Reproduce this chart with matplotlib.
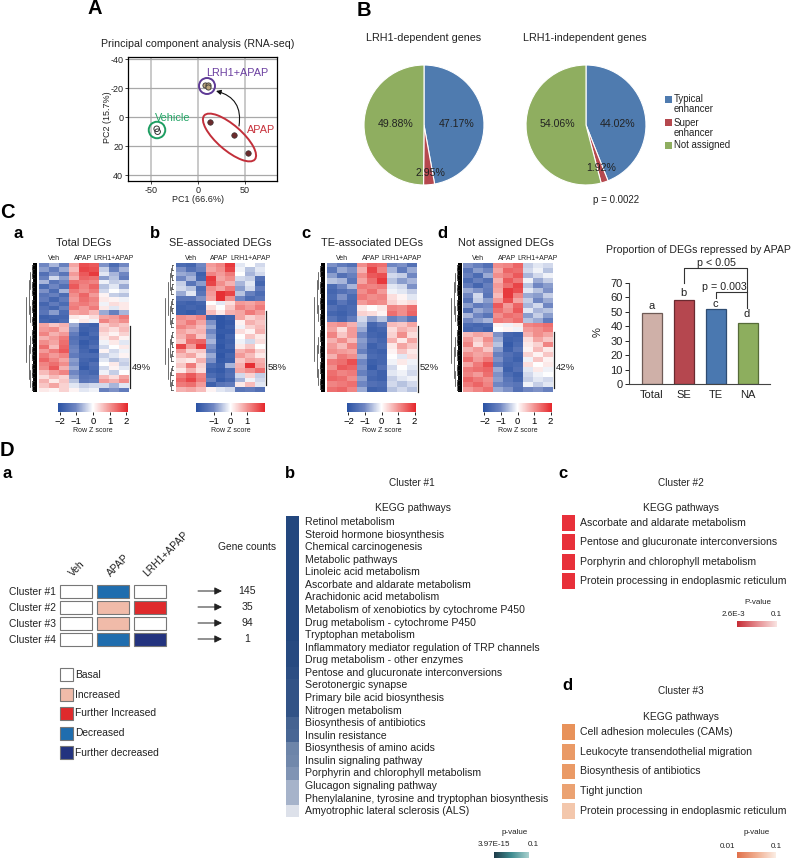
"""Multi-panel figure: PCA, enhancer pies, DEG heatmaps, bar chart and KEGG lists."""

import matplotlib
matplotlib.use("Agg")
import matplotlib.pyplot as plt
import numpy as np
from matplotlib.cm import ScalarMappable
from matplotlib.colors import LinearSegmentedColormap, Normalize
from matplotlib.patches import Ellipse, Rectangle

plt.rcParams["font.family"] = ["Liberation Sans", "DejaVu Sans"]

W, H = 794, 859

# PCA
pc_vehicle_x = [-44, -43]
pc_vehicle_y = [8, 10]
pc_lrh1_x = [7, 11, 11]
pc_lrh1_y = [-22, -22, -21]
pc_apap_x = [13, 38, 53]
pc_apap_y = [3, 12, 25]
pc_xticks = [-50, 0, 50]
pc_yticks = [-40, -20, 0, 20, 40]

# pies
pie_labels = ["Typical\nenhancer", "Super\nenhancer", "Not assigned"]
pie_dependent = [47.17, 2.95, 49.88]
pie_independent = [44.02, 1.92, 54.06]

# bars
bar_names = ["Total", "SE", "TE", "NA"]
bar_values = [49, 58, 52, 42]
bar_letters = ["a", "b", "c", "d"]

# heatmaps, rows top to bottom, columns Veh x3, APAP x3, LRH1+APAP x3
heat_total = [
    [-1.0, -0.6, -1.1, 0.8, 1.6, 1.5, -0.9, -1.5, -1.0],
    [-0.8, -1.2, -0.7, 0.6, 1.7, 1.6, -0.4, -1.1, -0.6],
    [-1.4, -0.9, -1.3, 0.9, 1.5, 1.8, -0.2, -0.6, -1.0],
    [-1.1, -0.3, -0.8, 0.7, 1.4, 1.3, -0.8, -0.5, -1.2],
    [-0.6, -1.3, -1.0, 1.3, 1.2, 1.1, -0.1, -0.4, -0.3],
    [-1.5, -1.0, -1.4, 1.5, 1.1, 1.4, -0.5, -0.2, -0.7],
    [-0.9, -1.5, -0.6, 1.2, 1.0, 1.2, -0.3, 0.0, -0.2],
    [-1.3, -1.1, -1.5, 1.0, 1.4, 0.9, 0.1, -0.4, -0.5],
    [-1.2, -1.6, -1.2, 0.9, 1.3, 1.1, 0.2, 0.1, -0.1],
    [-1.6, -1.2, -1.5, 1.1, 1.2, 1.0, -0.1, 0.3, 0.2],
    [-1.4, -1.6, -1.1, 1.2, 0.9, 1.2, 0.2, -0.2, 0.2],
    [-1.3, -0.8, -1.5, 0.8, 0.9, 0.6, -0.7, -1.1, -0.6],
    [-1.7, -1.6, -1.6, 0.2, 0.1, 0.3, 0.8, 0.9, 1.2],
    [-1.6, -1.7, -1.5, 0.0, 0.2, -0.1, 1.1, 0.8, 1.0],
    [0.8, 0.5, 0.7, -0.7, -1.6, -1.7, 0.4, 0.7, 0.5],
    [0.9, 1.0, 0.6, -0.9, -1.7, -1.6, 0.5, 0.3, 0.6],
    [1.1, 0.7, 0.9, -1.2, -1.8, -1.5, 0.3, 0.1, 0.4],
    [0.7, 0.9, 1.2, -1.4, -1.6, -1.7, 0.2, 0.5, 0.1],
    [1.0, 0.8, 1.3, -1.3, -1.8, -1.6, -0.1, 0.2, -0.2],
    [1.3, 0.6, 1.4, -1.1, -1.7, -1.4, -0.3, 0.0, 0.2],
    [0.9, 1.2, 1.5, -1.0, -1.6, -1.8, 0.1, -0.3, -0.1],
    [1.2, 0.9, 1.1, -1.2, -1.5, -1.5, -0.4, -0.2, 0.1],
    [1.4, 1.1, 0.8, -0.8, -1.6, -1.7, -0.2, -0.5, -0.3],
    [1.1, 1.3, 1.0, -0.9, -1.7, -1.4, 0.0, 0.2, -0.4],
    [1.0, 1.5, 0.7, -0.7, -1.8, -1.5, -0.3, 0.1, -0.2],
    [0.6, 0.9, 1.1, -1.0, -1.5, -1.6, -0.1, -0.4, 0.0],
    [0.3, 0.6, 0.4, -0.8, -1.4, -1.3, 0.6, 0.3, 0.8],
    [0.7, 0.2, 0.5, -0.5, -1.3, -1.2, 0.9, 0.7, 1.0],
    [0.5, 0.8, 0.4, -0.2, -0.4, -0.3, -0.3, -0.6, -0.2],
    [0.2, 0.1, 0.4, 0.1, -0.2, -0.1, -1.1, -0.9, -1.2],
]
heat_se = [
    [-1.5, -1.6, -1.0, 0.9, 1.1, 1.8, -0.2, 0.0, -0.3],
    [-0.9, -1.4, -1.1, 0.8, 1.0, 1.7, -0.1, -0.5, -0.2],
    [-0.7, -0.8, -1.7, 1.1, 0.9, 1.2, 0.0, -0.6, -0.3],
    [-1.0, -0.6, -1.6, 1.8, 0.8, 1.0, -0.3, -0.4, -1.4],
    [-0.4, -1.3, -0.8, 1.7, 1.0, 0.7, -0.6, -0.2, -1.6],
    [-0.3, -0.5, -1.5, 1.0, 0.8, 1.2, -0.8, -0.3, -1.2],
    [-0.7, -0.2, -1.3, 0.9, 1.9, 1.7, -0.5, -1.1, -1.5],
    [-1.3, -1.3, -0.9, 0.8, 1.9, 1.0, -1.0, -1.5, -1.3],
    [-1.6, -1.7, -1.6, 0.0, -0.2, 0.3, 0.9, 0.8, 1.0],
    [-1.7, -1.6, -1.7, 0.3, 0.0, 0.5, 1.1, 0.9, 1.2],
    [-1.7, -1.8, -1.6, 0.6, 0.2, 0.7, 0.8, 1.2, 0.9],
    [1.0, 0.9, 1.1, -1.7, -1.9, -1.7, 0.8, 0.4, 0.6],
    [0.9, 1.2, 0.8, -0.9, -1.9, -1.8, 0.1, 0.7, 0.5],
    [1.1, 0.9, 0.6, -0.7, -1.9, -1.7, -0.1, 0.4, 0.6],
    [0.8, 0.6, 0.7, -1.0, -1.8, -1.8, 0.3, 0.1, 0.7],
    [0.7, 1.1, 0.5, -0.8, -1.9, -1.6, 0.0, 0.5, 0.2],
    [0.5, 1.3, 1.4, -0.6, -1.8, -1.7, -0.1, -0.3, 0.3],
    [1.7, 0.9, 1.8, -0.9, -1.9, -1.6, 0.2, 0.5, 0.0],
    [0.9, 0.4, 0.5, -1.1, -1.8, -1.8, 0.7, 0.9, 0.4],
    [0.6, 0.8, 0.3, -0.7, -1.9, -1.6, 0.9, 0.6, 0.2],
    [0.3, 0.2, 0.7, -0.9, -1.8, -1.7, 0.5, 0.8, 0.7],
    [0.5, 1.2, 0.4, -1.5, -1.7, -0.6, 0.7, 1.9, 0.8],
    [0.2, 0.7, 0.3, -1.7, -1.8, -1.5, 0.8, 1.0, 1.3],
    [1.2, 1.5, 1.1, -1.5, -1.7, -1.4, -0.3, 0.4, -0.4],
    [1.4, 1.7, 1.2, -1.1, -1.8, -1.6, -0.6, -0.1, -0.3],
    [1.2, 1.3, 0.9, -1.7, -1.3, -1.2, 0.2, 0.6, -0.2],
    [0.7, 0.8, 0.6, 0.1, -0.2, -0.3, -1.3, -1.2, -1.4],
]
heat_te = [
    [-0.9, -1.2, -1.4, 1.0, 1.4, 1.3, -1.0, -0.9, -1.4],
    [-1.3, -0.7, -0.9, 0.7, 1.7, 1.1, -0.6, -1.2, -0.7],
    [-0.8, -1.4, -1.1, 1.0, 1.5, 1.6, -0.3, -0.4, -1.0],
    [-0.5, -0.6, -1.3, 0.8, 1.3, 1.8, -0.5, -0.8, -0.6],
    [-1.5, -1.0, -0.6, 1.2, 1.1, 1.2, -0.2, -0.3, -0.9],
    [-1.6, -1.4, -1.2, 1.0, 1.3, 0.9, -0.1, -0.2, -0.4],
    [-1.5, -0.9, -1.5, 1.2, 1.0, 1.1, 0.3, 0.1, -0.2],
    [-1.7, -1.3, -1.6, 0.9, 1.1, 1.0, 0.4, 0.2, 0.3],
    [-1.4, -1.6, -1.5, 0.2, 0.0, 0.2, 1.1, 1.0, 1.3],
    [-1.6, -1.7, -1.5, 0.4, 0.3, 0.1, 1.3, 1.0, 1.4],
    [-1.3, -1.6, -1.2, -0.3, -0.8, -0.5, -1.1, -0.9, -1.3],
    [0.9, 1.0, 0.7, -0.5, -1.6, -1.3, 0.6, 0.5, 0.8],
    [0.8, 0.3, 0.9, -0.7, -1.7, -1.6, 0.3, 0.7, 0.5],
    [1.1, 0.5, 0.9, -1.0, -1.6, -1.7, 0.4, 1.0, 0.3],
    [0.7, 1.0, 0.6, -0.8, -1.4, -1.6, 0.7, 0.2, 0.8],
    [0.9, 0.6, 1.1, -0.9, -1.7, -1.5, 0.2, 0.8, 0.5],
    [1.0, 0.9, 0.8, -1.1, -1.6, -1.7, 0.1, 0.5, 0.2],
    [0.7, 1.2, 1.0, -0.7, -1.5, -1.6, 0.0, -0.2, 0.3],
    [1.2, 1.3, 1.6, -1.0, -1.7, -1.6, -0.1, 0.2, -0.1],
    [1.0, 1.5, 1.4, -0.9, -1.8, -1.4, -0.3, 0.0, -0.2],
    [1.3, 1.1, 1.2, -1.1, -1.5, -1.7, -0.2, -0.1, -0.3],
    [1.4, 1.3, 1.0, -0.8, -1.6, -1.7, -0.4, -0.2, -0.1],
    [1.1, 1.2, 1.3, -1.0, -1.4, -1.5, -0.3, -0.5, -0.3],
    [1.3, 1.4, 1.1, -0.7, -1.7, -1.6, -0.5, -0.3, -0.5],
]
heat_na = [
    [-0.9, -1.1, -1.4, 1.0, 1.1, 1.4, -0.4, -0.2, -0.3],
    [-1.3, -0.8, -1.0, 0.8, 1.4, 1.3, -0.3, -0.1, -0.5],
    [-1.1, -1.5, -0.7, 1.0, 1.2, 1.5, -0.6, -0.3, -0.1],
    [-1.5, -1.1, -1.4, 0.7, 1.5, 1.2, -0.1, -0.7, -0.4],
    [-1.2, -1.6, -1.1, 0.9, 1.3, 1.7, -0.5, -1.0, -0.8],
    [-0.7, -0.9, -1.2, 0.8, 1.8, 1.6, -0.2, -0.5, -0.9],
    [-1.0, -0.3, -1.3, 0.6, 1.8, 1.1, -0.7, -0.8, -0.4],
    [-1.3, -0.4, -0.8, 0.9, 1.6, 0.8, -0.4, -1.0, -0.7],
    [-0.8, -1.2, -1.0, 1.5, 0.9, 1.4, -0.6, -0.3, -1.0],
    [-1.4, -0.7, -0.9, 1.3, 1.0, 1.5, -0.2, -0.6, -0.5],
    [-0.6, -1.0, -1.3, 1.0, 1.3, 1.2, -0.8, -0.4, -0.8],
    [-1.0, -0.8, -0.6, 1.2, 1.1, 1.3, -0.5, -0.7, -1.2],
    [-1.5, -1.6, -1.5, 0.1, -0.1, 0.2, 1.1, 1.2, 1.3],
    [-1.6, -1.5, -1.7, 0.0, 0.1, -0.1, 0.9, 1.0, 1.2],
    [0.6, 0.8, 0.7, -0.9, -1.6, -1.7, 0.7, 1.0, 0.8],
    [0.9, 0.5, 1.0, -0.7, -1.7, -1.6, 0.3, 0.8, 0.5],
    [1.1, 0.3, 0.8, -0.5, -1.8, -1.5, 0.2, 0.4, 1.1],
    [0.7, 0.9, 0.5, -0.8, -1.7, -1.3, 0.1, 0.6, 0.2],
    [1.0, 0.8, 0.9, -1.1, -1.4, -1.6, 0.4, 0.1, 0.5],
    [1.3, 0.9, 1.2, -0.9, -1.5, -1.7, -0.1, 0.5, 0.1],
    [0.8, 1.2, 1.6, -1.2, -1.6, -1.5, 0.3, 0.0, 0.2],
    [1.2, 1.3, 1.4, -0.7, -1.7, -1.4, -0.2, 0.2, -0.1],
    [1.1, 0.9, 1.3, -0.9, -1.5, -1.7, -0.3, -0.1, 0.0],
    [1.4, 1.2, 1.0, -0.8, -1.3, -1.6, -0.4, -0.2, -0.3],
    [1.2, 1.4, 1.1, -1.0, -1.2, -1.3, -0.1, -0.4, -0.2],
    [0.9, 1.1, 1.3, -0.7, -0.9, -1.4, -1.0, -0.9, -1.1],
]

# cluster table, codes follow state_names
state_names = ["Basal", "Increased", "Further Increased", "Decreased", "Further decreased"]
state_colors = ["white", "#F0BBA9", "#DF2A2C", "#1F6DAE", "#23337F"]
cluster_names = ["Cluster #1", "Cluster #2", "Cluster #3", "Cluster #4"]
cluster_states = [[0, 3, 0], [0, 1, 2], [0, 1, 0], [0, 3, 4]]
cluster_columns = ["Veh", "APAP", "LRH1+APAP"]
gene_counts = ["145", "35", "94", "1"]

# KEGG lists
kegg_cluster1 = [
    "Retinol metabolism", "Steroid hormone biosynthesis", "Chemical carcinogenesis",
    "Metabolic pathways", "Linoleic acid metabolism", "Ascorbate and aldarate metabolism",
    "Arachidonic acid metabolism", "Metabolism of xenobiotics by cytochrome P450",
    "Drug metabolism - cytochrome P450", "Tryptophan metabolism",
    "Inflammatory mediator regulation of TRP channels", "Drug metabolism - other enzymes",
    "Pentose and glucuronate interconversions", "Serotonergic synapse",
    "Primary bile acid biosynthesis", "Nitrogen metabolism", "Biosynthesis of antibiotics",
    "Insulin resistance", "Biosynthesis of amino acids", "Insulin signaling pathway",
    "Porphyrin and chlorophyll metabolism", "Glucagon signaling pathway",
    "Phenylalanine, tyrosine and tryptophan biosynthesis",
    "Amyotrophic lateral sclerosis (ALS)",
]
kegg_cluster1_level = [0.0, 0.0, 0.0, 0.0, 0.0, 0.0, 0.0, 0.0, 0.0, 0.0, 0.02, 0.02,
                       0.05, 0.08, 0.08, 0.08, 0.18, 0.2, 0.4, 0.42, 0.5, 0.7, 0.7, 1.0]
kegg_cluster2 = [
    "Ascorbate and aldarate metabolism", "Pentose and glucuronate interconversions",
    "Porphyrin and chlorophyll metabolism", "Protein processing in endoplasmic reticulum",
]
kegg_cluster2_level = [0.0, 0.0, 0.0, 0.0]
kegg_cluster3 = [
    "Cell adhesion molecules (CAMs)", "Leukocyte transendothelial migration",
    "Biosynthesis of antibiotics", "Tight junction",
    "Protein processing in endoplasmic reticulum",
]
kegg_cluster3_level = [0.0, 0.15, 0.15, 0.3, 1.0]

heat_cmap = LinearSegmentedColormap.from_list("heat", ["#2A52A4", "#6F86C2", "#FFFFFF", "#F2908E", "#E5262B"])
kegg1_cmap = LinearSegmentedColormap.from_list("kegg1", ["#23477E", "#DDE1EA"])
kegg2_cmap = LinearSegmentedColormap.from_list("kegg2", ["#E8303A", "#F7C0C0"])
kegg3_cmap = LinearSegmentedColormap.from_list("kegg3", ["#E8925A", "#F3C7AC"])
pie_colors = ["#4F7BAF", "#B5484E", "#8FAE60"]
bar_colors = ["#CFB0A8", "#B5474F", "#4A78B0", "#8DAE5E"]
bar_edges = ["#6E5A55", "#6A2A30", "#2E4C72", "#566B38"]

fig = plt.figure(figsize=(W / 100, H / 100), dpi=100)


def px_axes(x0, y0, x1, y1, **kw):
    return fig.add_axes([x0 / W, 1 - y1 / H, (x1 - x0) / W, (y1 - y0) / H], **kw)


# all free text sits on a full figure axes in pixel units
ov = px_axes(0, 0, W, H, zorder=20)
ov.set_xlim(0, W)
ov.set_ylim(H, 0)
ov.axis("off")
ov.patch.set_alpha(0)


def put(x, y, s, size=7, ha="center", **kw):
    ov.text(x, y, s, fontsize=size, ha=ha, va="center", color=kw.pop("color", "#222222"), **kw)


def letter(x, y, s, size=13):
    put(x, y, s, size=size, weight="bold", color="black")


for x, y, s, size in [(95, 9, "A", 14.5), (364, 11, "B", 14.5), (7, 213, "C", 14.5), (7, 451, "D", 14.5),
                      (18, 233, "a", 12), (155, 233, "b", 12), (306, 233, "c", 12), (442, 233, "d", 12),
                      (7, 474, "a", 12), (290, 474, "b", 12), (563, 474, "c", 12), (567, 686, "d", 12)]:
    letter(x, y, s, size)

# ---- A: PCA
ax = px_axes(128, 57, 277, 181)
ax.set_xlim(-74.5, 84)
ax.set_ylim(44, -41.5)
for v in pc_xticks:
    ax.axvline(v, color="#C9C9C9", lw=1.4, zorder=1)
for v in pc_yticks:
    ax.axhline(v, color="#A8A8A8", lw=0.9, zorder=1)
ax.scatter(pc_vehicle_x, pc_vehicle_y, s=16, facecolor="none", edgecolor="#333333", lw=0.7, zorder=3)
ax.scatter(pc_lrh1_x, pc_lrh1_y, s=14, facecolor="#B9A57C", edgecolor="#333333", lw=0.6, zorder=3)
ax.scatter(pc_apap_x, pc_apap_y, s=16, color="#6B2A2C", edgecolor="#333333", lw=0.4, zorder=3)
ax.set_xticks(pc_xticks, [str(v) for v in pc_xticks])
ax.set_yticks(pc_yticks, [str(v) for v in pc_yticks])
ax.tick_params(labelsize=6.5, length=2, width=0.6, pad=1.5, colors="#222222")
for sp in ax.spines.values():
    sp.set_linewidth(0.9)
put(198, 44, "Principal component analysis (RNA-seq)", size=7.7)
put(198, 199, "PC1 (66.6%)", size=6.5)
put(107, 117, "PC2 (15.7%)", size=6.5, rotation=90)
ov.add_patch(Ellipse((207, 86), 16, 16, fill=False, ec="#5E3A96", lw=1.4))
ov.add_patch(Ellipse((157, 130), 16.5, 16.5, fill=False, ec="#1E9E62", lw=1.4))
ov.add_patch(Ellipse((229.5, 137.5), 67, 25, angle=41, fill=False, ec="#C22F3A", lw=1.4))
ov.annotate("", xy=(216, 91), xytext=(239, 126),
            arrowprops=dict(arrowstyle="-|>", color="#111111", lw=0.8, mutation_scale=7,
                            connectionstyle="arc3,rad=0.45", shrinkA=0, shrinkB=0))
put(237.5, 73, "LRH1+APAP", size=7.8, color="#6B3FA0")
put(173, 118, "Vehicle", size=7.8, color="#22A565")
put(261, 130, "APAP", size=7.8, color="#C8323C")

# ---- B: pies
for cx, values, title, tx in [(424, pie_dependent, "LRH1-dependent genes", 424),
                              (586, pie_independent, "LRH1-independent genes", 585)]:
    ax = px_axes(cx - 61, 64, cx + 61, 186)
    ax.pie(values, colors=pie_colors, startangle=90, counterclock=False, radius=1.0,
           wedgeprops=dict(edgecolor="white", linewidth=0.8))
    ax.set_xlim(-1.017, 1.017)
    ax.set_ylim(-1.017, 1.017)
    put(tx, 38, title, size=7.75)
put(457, 124, "47.17%", size=7.6)
put(396, 124, "49.88%", size=7.6)
put(430, 173, "2.95%", size=7.6)
put(618, 124, "44.02%", size=7.6)
put(557, 124, "54.06%", size=7.6)
put(601, 168, "1.92%", size=7.6)
put(616, 200, "p = 0.0022", size=7)
for (y, ty), name, col in zip([(99, 104), (122, 127.5), (145, 145.5)], pie_labels, pie_colors):
    ov.add_patch(Rectangle((665, y - 3.5), 7, 7, fc=col, ec="none"))
    ov.text(674, ty, name, fontsize=6.9, ha="left", va="center", color="#222222", linespacing=1.0)


# ---- C: heatmaps
def draw_tree(ax, lo, hi, left, right):
    """Binary tree over rows lo..hi drawn from the root on the left to the leaves on the right."""
    if hi - lo < 1:
        ax.plot([left, right], [lo, lo], color="#333333", lw=0.5)
        return lo
    mid = (lo + hi) // 2
    step = left + (right - left) * 0.3
    a = draw_tree(ax, lo, mid, step, right)
    b = draw_tree(ax, mid + 1, hi, step, right)
    ax.plot([step, step], [a, b], color="#333333", lw=0.5)
    return (a + b) / 2


def heatmap(data, x0, x1, tree_x0, tree_x1, title, title_x, pct, br_top, br_bot, cb_x0, cb_x1, ticks, solid):
    ax = px_axes(x0, 263, x1, 392)
    ax.imshow(np.array(data), aspect="auto", cmap=heat_cmap, vmin=-2, vmax=2, interpolation="nearest")
    ax.axis("off")

    tree = px_axes(tree_x0, 263, tree_x1, 392)
    n = len(data)
    tree.set_xlim(0, 1)
    tree.set_ylim(n - 1 + 0.5, -0.5)
    if solid:
        draw_tree(tree, 0, n - 1, 0, 0.8)
        tree.add_patch(Rectangle((0.72, -0.5), 0.28, n, fc="black", ec="none"))
    else:
        draw_tree(tree, 0, n - 1, 0, 1)
    tree.axis("off")

    put(title_x, 243, title, size=7.8)
    w = (x1 - x0) / 3
    put(x0 + w / 2, 259, "Veh", size=5)
    put(x0 + 1.5 * w - 1, 259, "APAP", size=5)
    put(x0 + 2.5 * w, 259, "LRH1+APAP", size=5)
    ov.plot([x1 + 1, x1 + 1], [br_top, br_bot], color="#222222", lw=0.9)
    put(x1 + 3, 368, pct, size=6.8, ha="left")

    cax = px_axes(cb_x0, 403, cb_x1, 412)
    cb = fig.colorbar(ScalarMappable(Normalize(-2.09, 2.09), heat_cmap), cax=cax, orientation="horizontal")
    cb.set_ticks(ticks)
    cb.ax.tick_params(labelsize=6.8, length=2.5, width=0.6, pad=1)
    cb.outline.set_visible(False)
    put((cb_x0 + cb_x1) / 2, 431, "Row Z score", size=5)


heatmap(heat_total, 39, 129, 23, 37, "Total DEGs", 84, "49%", 326, 388, 58, 128, [-2, -1, 0, 1, 2], True)
heatmap(heat_se, 176, 265, 161, 174, "SE-associated DEGs", 220, "58%", 311, 385, 196, 265, [-1, 0, 1], False)
heatmap(heat_te, 327, 417, 311, 325, "TE-associated DEGs", 372, "52%", 326, 392, 347, 416, [-2, -1, 0, 1, 2], True)
heatmap(heat_na, 463, 553, 448, 462, "Not assigned DEGs", 506, "42%", 332, 388, 483, 552, [-2, -1, 0, 1, 2], True)

# ---- C: bars
ax = px_axes(629, 283, 770, 384)
ax.patch.set_alpha(0)
pos = np.arange(len(bar_values))
ax.bar(pos, bar_values, width=0.6, color=bar_colors, edgecolor=bar_edges, linewidth=0.9)
ax.set_xlim(-0.72, 3.69)
ax.set_ylim(0, 70)
ax.set_xticks(pos, bar_names)
ax.set_yticks(range(0, 71, 10))
ax.tick_params(axis="x", length=0, labelsize=8, pad=4, colors="#222222")
ax.tick_params(axis="y", length=3, width=0.7, labelsize=8, pad=1.5, colors="#222222")
for side in ["top", "right"]:
    ax.spines[side].set_visible(False)
for side in ["left", "bottom"]:
    ax.spines[side].set_linewidth(0.8)
    ax.spines[side].set_color("#444444")
for x, y, s in zip([652, 683, 715, 747], [306, 293, 304, 314], bar_letters):
    put(x, y, s, size=8)
put(698, 250, "Proportion of DEGs repressed by APAP", size=7.6)
put(598, 332, "%", size=8, rotation=90)
ov.plot([684, 684, 747, 747], [283, 268, 268, 308], color="#333333", lw=0.8)
ov.plot([716, 716, 747], [298, 292, 292], color="#333333", lw=0.8)
put(716, 263, "p < 0.05", size=7.7)
put(724, 287, "p = 0.003", size=7.7)

# ---- D a: cluster table
col_x = [60, 97, 134]
row_y = [585, 601, 617, 633]
for name, y, states, count in zip(cluster_names, row_y, cluster_states, gene_counts):
    put(56, y + 7, name, size=7.4, ha="right")
    for x, st in zip(col_x, states):
        ov.add_patch(Rectangle((x, y), 32, 13, fc=state_colors[st], ec="#777777", lw=0.8))
    ov.annotate("", xy=(222, y + 6), xytext=(198, y + 6),
                arrowprops=dict(arrowstyle="-|>", color="#222222", lw=0.7, mutation_scale=11, shrinkA=0, shrinkB=0))
    put(247, y + 6, count, size=7.6)
for x, y, name in zip([74, 112, 149], [578, 578, 578], cluster_columns):
    ov.text(x, y, name, fontsize=7.4, rotation=45, ha="left", va="bottom", rotation_mode="anchor", color="#222222")
put(247, 547, "Gene counts", size=7.4)
for y, name, col in zip([668, 688, 707, 727, 746], state_names, state_colors):
    ov.add_patch(Rectangle((60, y), 13, 13, fc=col, ec="#777777", lw=0.8))
    put(75, y + 6.5, name, size=7.4, ha="left")


# ---- D b-d: KEGG lists
def kegg_list(names, levels, cmap, x0, x1, y_centers, box_h, text_x, size):
    ax = px_axes(x0, y_centers[0] - box_h / 2, x1, y_centers[-1] + box_h / 2)
    ax.set_xlim(0, 1)
    ax.set_ylim(y_centers[-1] + box_h / 2, y_centers[0] - box_h / 2)
    ax.barh(y_centers, [1] * len(levels), height=box_h, color=cmap(np.array(levels)))
    ax.axis("off")
    for y, name in zip(y_centers, names):
        put(text_x, y, name, size=size, ha="left")


y1 = [522 + i * 12.57 for i in range(len(kegg_cluster1))]
kegg_list(kegg_cluster1, kegg_cluster1_level, kegg1_cmap, 286, 299, y1, 12.57, 305, 7.6)
y2 = [523 + i * 19.4 for i in range(len(kegg_cluster2))]
kegg_list(kegg_cluster2, kegg_cluster2_level, kegg2_cmap, 562, 575, y2, 16, 580, 7.6)
y3 = [732 + i * 19.75 for i in range(len(kegg_cluster3))]
kegg_list(kegg_cluster3, kegg_cluster3_level, kegg3_cmap, 562, 575, y3, 15.5, 580, 7.6)

put(412, 483, "Cluster #1", size=7.2)
put(413, 508, "KEGG pathways", size=7.4)
put(681, 483, "Cluster #2", size=7.2)
put(681, 508, "KEGG pathways", size=7.4)
put(681, 691, "Cluster #3", size=7.2)
put(681, 717, "KEGG pathways", size=7.4)


def gradient(x0, x1, y0, y1, colors):
    ax = px_axes(x0, y0, x1, y1)
    fig.colorbar(ScalarMappable(Normalize(0, 1), LinearSegmentedColormap.from_list("g", colors)),
                 cax=ax, orientation="horizontal", ticks=[]).outline.set_visible(False)


gradient(494, 529, 852, 858, ["#1D3A48", "#3F8C90", "#A8D0CE"])
put(515, 833, "p-value", size=5.8)
put(494, 845, "3.97E-15", size=5.8)
put(533, 845, "0.1", size=5.8)
gradient(737, 777, 621, 627, ["#C52B35", "#E48A8E", "#F9E4E2"])
put(758, 603, "P-value", size=5.8)
put(733, 615, "2.6E-3", size=5.8)
put(776, 615, "0.1", size=5.8)
gradient(737, 776, 852, 858, ["#E0704A", "#F0AE90", "#FBEDE4"])
put(757, 833, "p-value", size=5.8)
put(727, 846, "0.01", size=5.8)
put(776, 846, "0.1", size=5.8)

fig.savefig("out.png", dpi=100)
